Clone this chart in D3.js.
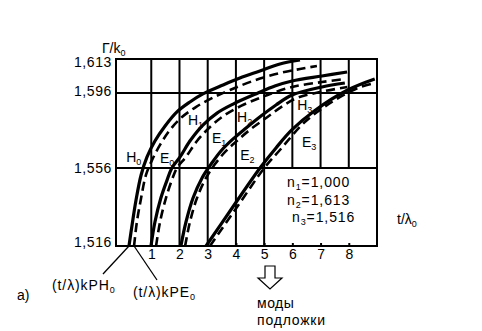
<!DOCTYPE html>
<html>
<head>
<meta charset="utf-8">
<script src="https://cdn.jsdelivr.net/npm/d3@7"></script>
<style>
  body { margin: 0; background: #fff; }
  text { font-family: "Liberation Sans", Arial, sans-serif; fill: #000; }
</style>
</head>
<body>
<svg id="chart" width="482" height="331"></svg>
<script>
// tick values
let xTicks = [1, 2, 3, 4, 5, 6, 7, 8];
let yTicks = [1.516, 1.556, 1.596, 1.613];

// curves: [t/lambda, Gamma/k0]  (H = solid, E = dashed)
let H0 = [[0.21,1.516],[0.32,1.5268],[0.46,1.5396],[0.64,1.5524],[0.85,1.5619],[1.13,1.5704],[1.49,1.5784],[1.91,1.5859],[2.37,1.5912],[2.83,1.5955],[3.54,1.600],[4.14,1.6035],[4.85,1.607],[5.56,1.6105],[6.27,1.6125]];
let E0 = [[0.39,1.516],[0.49,1.5283],[0.64,1.5406],[0.81,1.5524],[1.03,1.5603],[1.31,1.5683],[1.66,1.5763],[2.09,1.5832],[2.58,1.5885],[3.15,1.5933],[3.79,1.5975],[4.60,1.602],[5.56,1.606],[6.27,1.608],[6.87,1.6095]];
let H1 = [[0.99,1.516],[1.13,1.5283],[1.34,1.5406],[1.56,1.5498],[1.73,1.556],[2.02,1.5619],[2.37,1.5704],[2.83,1.5789],[3.33,1.5853],[3.90,1.5901],[4.78,1.596],[5.38,1.5995],[5.99,1.602],[7.05,1.6045],[7.94,1.6065]];
let E1 = [[1.17,1.516],[1.31,1.5283],[1.52,1.5406],[1.73,1.5498],[1.91,1.556],[2.23,1.5619],[2.62,1.5704],[3.12,1.5784],[3.61,1.5843],[4.18,1.5891],[4.75,1.5928],[5.21,1.5955],[5.99,1.599],[7.05,1.6015],[7.86,1.603]];
let H2 = [[2.05,1.516],[2.23,1.5283],[2.48,1.5406],[2.80,1.5509],[3.12,1.5581],[3.47,1.5651],[3.90,1.5715],[4.36,1.5773],[4.89,1.5837],[5.42,1.5896],[5.99,1.5949],[7.05,1.599],[7.86,1.601]];
let E2 = [[2.20,1.516],[2.37,1.5283],[2.62,1.5406],[2.94,1.5509],[3.26,1.5581],[3.65,1.5651],[4.07,1.5709],[4.53,1.5768],[5.07,1.5827],[5.60,1.5885],[6.16,1.5933],[7.16,1.597],[7.95,1.599]];
let H3 = [[2.94,1.516],[3.89,1.536],[4.88,1.5565],[5.42,1.5667],[5.98,1.5763],[6.80,1.5867],[7.96,1.5975],[8.92,1.603]];
let E3 = [[3.08,1.516],[4.04,1.536],[5.03,1.5565],[5.56,1.5656],[6.44,1.5805],[7.40,1.5912],[8.32,1.5985],[8.92,1.601]];

// curve names and where they are written
let curveLabels = [
  ['H', '0', 0.11, 1.5592], ['E', '0', 1.31, 1.5587],
  ['H', '1', 2.30, 1.5789], ['E', '1', 3.15, 1.5693],
  ['H', '2', 4.04, 1.5805], ['E', '2', 4.15, 1.5603],
  ['H', '3', 6.17, 1.5869], ['E', '3', 6.34, 1.5672]
];
let indexLines = [['n', '1', '=1,000'], ['n', '2', '=1,613'], ['n', '3', '=1,516']];

let svg = d3.select('#chart');

let x = d3.scaleLinear().domain([-0.25, 9]).range([116, 377]);
let y = d3.scaleLinear().domain([1.516, 1.556, 1.596, 1.613]).range([246, 168, 93, 59]);

let grid = svg.append('g').attr('stroke', '#000').attr('stroke-width', 2);

// vertical grid lines (stop above the legend box on the right)
grid.selectAll('.vg')
  .data(xTicks)
  .enter()
  .append('line')
  .attr('x1', (d) => x(d))
  .attr('x2', (d) => x(d))
  .attr('y1', y(1.613))
  .attr('y2', (d) => (d > 5 ? y(1.556) : y(1.516)));

// horizontal grid lines
grid.selectAll('.hg')
  .data([1.556, 1.596])
  .enter()
  .append('line')
  .attr('x1', x(-0.25))
  .attr('x2', x(9))
  .attr('y1', (d) => y(d))
  .attr('y2', (d) => y(d));

// frame
grid.append('rect')
  .attr('x', x(-0.25))
  .attr('y', y(1.613))
  .attr('width', x(9) - x(-0.25))
  .attr('height', y(1.516) - y(1.613))
  .attr('fill', 'none');

// axes
let xAxis = svg.append('g')
  .attr('transform', 'translate(0,' + y(1.516) + ')')
  .call(d3.axisBottom(x).tickValues(xTicks).tickSize(-3).tickPadding(3));
xAxis.select('.domain').remove();
xAxis.selectAll('line').attr('stroke', '#000').attr('stroke-width', 2);
xAxis.selectAll('text').attr('font-size', 14).attr('font-family', '"Liberation Sans", Arial, sans-serif');

let yAxis = svg.append('g')
  .attr('transform', 'translate(' + x(-0.25) + ',0)')
  .call(d3.axisLeft(y).tickValues(yTicks).tickSize(0).tickPadding(4)
    .tickFormat((d) => d.toFixed(3).replace('.', ',')));
yAxis.select('.domain').remove();
yAxis.selectAll('text')
  .attr('font-size', 14)
  .attr('letter-spacing', 0.6)
  .attr('font-family', '"Liberation Sans", Arial, sans-serif')
  .attr('dy', (d) => (d === 1.613 ? '0.55em' : d === 1.516 ? '0.05em' : d === 1.596 ? '0.15em' : '0.3em'));

// curves
let line = d3.line()
  .x((d) => x(d[0]))
  .y((d) => y(d[1]))
  .curve(d3.curveCatmullRom.alpha(0.5));

let curves = [[H0, false], [E0, true], [H1, false], [E1, true], [H2, false], [E2, true], [H3, false], [E3, true]];
svg.append('g')
  .selectAll('path')
  .data(curves)
  .enter()
  .append('path')
  .attr('d', (c) => line(c[0]))
  .attr('fill', 'none')
  .attr('stroke', '#000')
  .attr('stroke-width', (c) => (c[1] ? 2.6 : 3.2))
  .attr('stroke-dasharray', (c) => (c[1] ? '9,5' : null));

// curve labels
let cl = svg.append('g')
  .selectAll('text')
  .data(curveLabels)
  .enter()
  .append('text')
  .attr('x', (d) => x(d[2]))
  .attr('y', (d) => y(d[3]))
  .attr('font-size', 14);
cl.append('tspan').text((d) => d[0]);
cl.append('tspan').attr('font-size', 9).attr('dy', 3).text((d) => d[1]);

// refractive indices
let nl = svg.append('g')
  .selectAll('text')
  .data(indexLines)
  .enter()
  .append('text')
  .attr('x', (d, i) => (i === 2 ? 292 : 287))
  .attr('y', (d, i) => 187 + i * 17.5)
  .attr('font-size', 14)
  .attr('letter-spacing', 0.9);
nl.append('tspan').text((d) => d[0]);
nl.append('tspan').attr('font-size', 9).attr('dy', 3).text((d) => d[1]);
nl.append('tspan').attr('dy', -3).text((d) => d[2]);

// axis titles
let gt = svg.append('text').attr('x', 102).attr('y', 53).attr('font-size', 14);
gt.append('tspan').text('Г/k');
gt.append('tspan').attr('font-size', 9).attr('dy', 3).text('0');

let tt = svg.append('text').attr('x', 397).attr('y', 224).attr('font-size', 14);
tt.append('tspan').text('t/λ');
tt.append('tspan').attr('font-size', 9).attr('dy', 3).text('0');

// cutoff pointers
svg.append('line')
  .attr('x1', x(H0[0][0])).attr('y1', y(1.516))
  .attr('x2', 103).attr('y2', 274)
  .attr('stroke', '#000').attr('stroke-width', 1.3);
svg.append('line')
  .attr('x1', x(E0[0][0])).attr('y1', y(1.516))
  .attr('x2', 157).attr('y2', 280)
  .attr('stroke', '#000').attr('stroke-width', 1.3);

let p1 = svg.append('text').attr('x', 52).attr('y', 290).attr('font-size', 14).attr('letter-spacing', 0.9);
p1.append('tspan').text('(t/λ)kPH');
p1.append('tspan').attr('font-size', 9).attr('dy', 3).text('0');
let p2 = svg.append('text').attr('x', 133).attr('y', 297).attr('font-size', 14).attr('letter-spacing', 0.9);
p2.append('tspan').text('(t/λ)kPE');
p2.append('tspan').attr('font-size', 9).attr('dy', 3).text('0');

svg.append('text').attr('x', 17).attr('y', 300).attr('font-size', 14).text('а)');

// hollow arrow: substrate modes
let ax = 270;
svg.append('path')
  .attr('d', 'M' + (ax - 5) + ',266 L' + (ax + 5) + ',266 L' + (ax + 5) + ',278 L' + (ax + 12) + ',278 L' + ax + ',289 L' + (ax - 12) + ',278 L' + (ax - 5) + ',278 Z')
  .attr('fill', '#fff')
  .attr('stroke', '#000')
  .attr('stroke-width', 1.2);

svg.append('text').attr('x', 257).attr('y', 308).attr('font-size', 14).attr('letter-spacing', 0.5).text('моды');
svg.append('text').attr('x', 257).attr('y', 325).attr('font-size', 14).attr('letter-spacing', 0.8).text('подложки');
</script>
</body>
</html>
